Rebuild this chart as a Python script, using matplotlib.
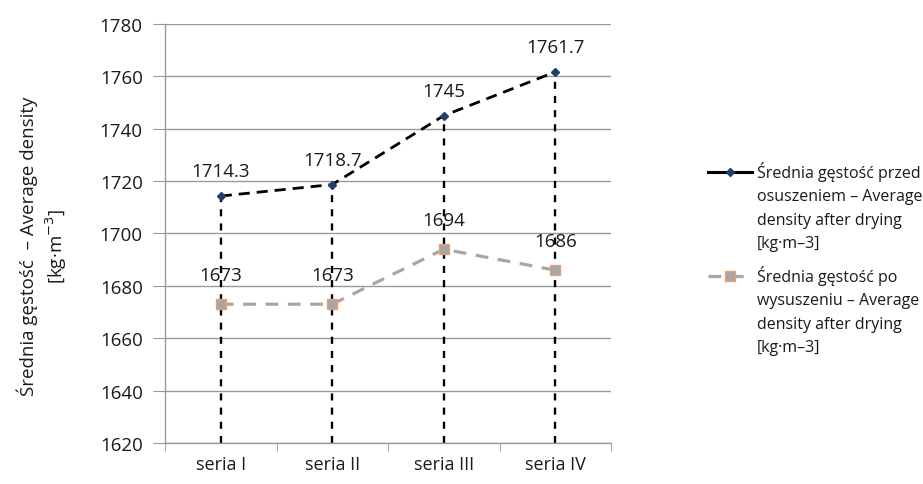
import matplotlib
matplotlib.use("Agg")
import matplotlib.pyplot as plt
from matplotlib.lines import Line2D

plt.rcParams['font.family'] = ['Open Sans', 'DejaVu Sans']

categories = ["seria I", "seria II", "seria III", "seria IV"]
before = [1714.3, 1718.7, 1745, 1761.7]
after = [1673, 1673, 1694, 1686]
before_labels = ["1714.3", "1718.7", "1745", "1761.7"]
after_labels = ["1673", "1673", "1694", "1686"]
legend_before = "Średnia gęstość przed\nosuszeniem – Average\ndensity after drying\n[kg·m–3]"
legend_after = "Średnia gęstość po\nwysuszeniu – Average\ndensity after drying\n[kg·m–3]"
ylabel = "Średnia gęstość  – Average density\n[kg·m$^{-3}$]"

W, H = 923, 485
fig = plt.figure(figsize=(W / 100, H / 100), dpi=100)
ax = fig.add_axes([165 / W, 1 - 444 / H, 446 / W, 419 / H])

x = list(range(len(categories)))
ymin = 1620
ax.set_ylim(1620, 1780)
ax.set_xlim(-0.5, len(categories) - 0.5)

ax.set_yticks(range(1620, 1781, 20))
ax.yaxis.grid(True, color='#9a9a9a', linewidth=1.0)
ax.set_axisbelow(True)

# drop lines
ax.vlines(x, ymin, before, colors='black', linestyles=(0, (3, 3)), linewidth=1.7, zorder=2)

ax.plot(x, after, color='#a6a6a6', linestyle=(0, (4, 3)), linewidth=2.3,
        marker='s', markersize=7, markerfacecolor='#a6a6a6', markeredgecolor='#e8a070',
        markeredgewidth=1.0, zorder=3)
ax.plot(x, before, color='black', linestyle=(0, (4, 2.5)), linewidth=2.0,
        marker='D', markersize=4, markerfacecolor='#1f3f6f', markeredgecolor='#1f3f6f', zorder=4)

for xi, yi, lab in zip(x, before, before_labels):
    ax.annotate(lab, (xi, yi), xytext=(0, 18), textcoords='offset points',
                ha='center', va='center', fontsize=13.5, color='#1a1a1a')
for xi, yi, lab in zip(x, after, after_labels):
    ax.annotate(lab, (xi, yi), xytext=(0, 21), textcoords='offset points',
                ha='center', va='center', fontsize=13.5, color='#1a1a1a')

ax.set_xticks(x)
ax.set_xticklabels(categories, fontsize=13, color='#1a1a1a')
ax.set_xticks([i - 0.5 for i in range(len(categories) + 1)], minor=True)
ax.tick_params(axis='x', which='major', length=0, pad=9)
ax.tick_params(axis='x', which='minor', length=6, color='#9a9a9a', direction='out')
ax.tick_params(axis='y', length=9, color='#9a9a9a', labelsize=13.5, labelcolor='#1a1a1a', pad=7)

for s in ['top', 'right']:
    ax.spines[s].set_visible(False)
for s in ['left', 'bottom']:
    ax.spines[s].set_color('#9a9a9a')
    ax.spines[s].set_linewidth(1.0)

fig.text(43 / W, 1 - 246 / H, ylabel, rotation=90, ha='center', va='center',
         multialignment='center', fontsize=13.5, linespacing=1.3, color='#1a1a1a')

# legend drawn manually (handle aligned with first text line, as in the reference)
def fy(py):
    return 1 - py / H

fig.add_artist(Line2D([708 / W, 752 / W], [fy(173), fy(173)], color='black', linewidth=2.2))
fig.add_artist(Line2D([730 / W], [fy(173)], marker='D', markersize=4, color='#1f3f6f',
                      markerfacecolor='#1f3f6f'))
fig.add_artist(Line2D([708 / W, 752 / W], [fy(277), fy(277)], color='#a6a6a6',
                      linestyle=(0, (4, 3)), linewidth=2.3))
fig.add_artist(Line2D([730 / W], [fy(277)], marker='s', markersize=7, color='#a6a6a6',
                      markerfacecolor='#a6a6a6', markeredgecolor='#e8a070'))
fig.text(757 / W, fy(162), legend_before, ha='left', va='top', fontsize=11.5,
         linespacing=1.62, color='#1a1a1a')
fig.text(757 / W, fy(266), legend_after, ha='left', va='top', fontsize=11.5,
         linespacing=1.62, color='#1a1a1a')

fig.savefig("out.png", dpi=100)
